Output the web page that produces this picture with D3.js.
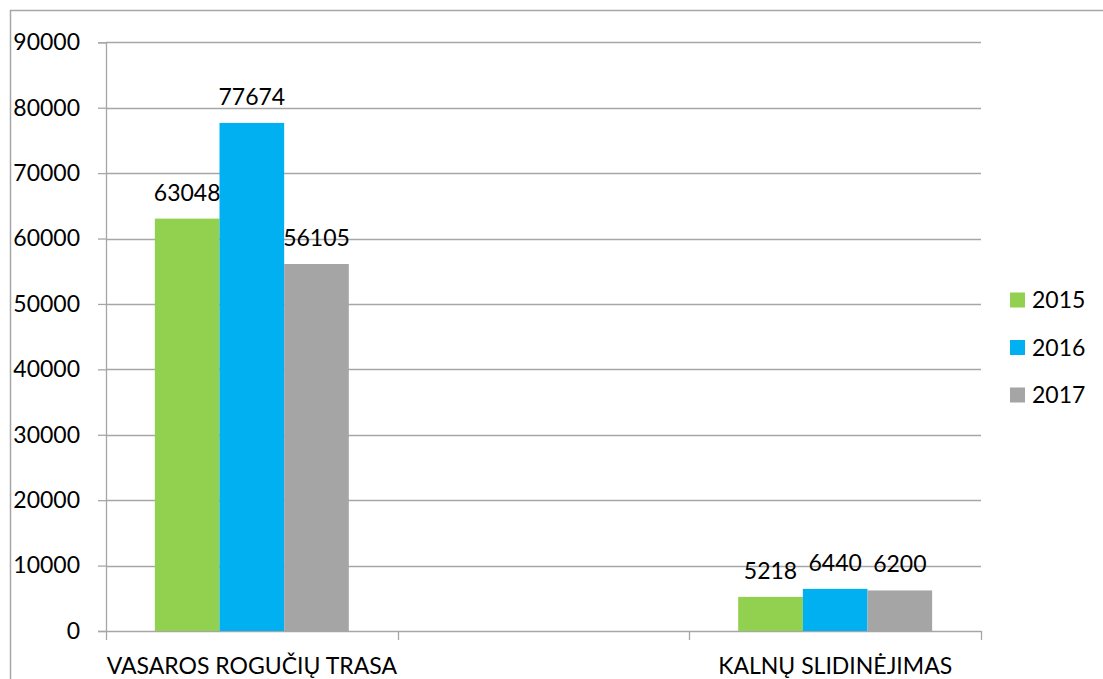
<!DOCTYPE html>
<html><head><meta charset="utf-8">
<script src="https://cdn.jsdelivr.net/npm/d3@7"></script>
<style>body{margin:0;background:#fff;} svg{display:block;} text{font-family:Lato, "Open Sans", sans-serif;fill:#000;}</style>
</head><body>
<svg id="c" width="1103" height="679"></svg>
<script>
const categories = ["VASAROS ROGUČIŲ TRASA", " ", "KALNŲ SLIDINĖJIMAS"];
const seriesNames = ["2015", "2016", "2017"];
const values2015 = [63048, null, 5218];
const values2016 = [77674, null, 6440];
const values2017 = [56105, null, 6200];
const colors = ["#92d050", "#00b0f0", "#a5a5a5"];
const yTicks = [0, 10000, 20000, 30000, 40000, 50000, 60000, 70000, 80000, 90000];

const svg = d3.select("#c");
const m = {left: 106, right: 981, top: 42.3, bottom: 631};
svg.append("rect").attr("x", 10.5).attr("y", 10.5).attr("width", 1300).attr("height", 900)
  .attr("fill", "none").attr("stroke", "#a6a6a6").attr("stroke-width", 1.5);

const x = d3.scaleBand().domain(categories).range([m.left, m.right]).paddingInner(0).paddingOuter(0);
const y = d3.scaleLinear().domain([0, 90000]).range([m.bottom, m.top]);

// gridlines
svg.append("g").selectAll("line").data(yTicks.slice(1)).join("line")
  .attr("x1", m.left).attr("x2", m.right)
  .attr("y1", d => Math.round(y(d)) + 0.5).attr("y2", d => Math.round(y(d)) + 0.5)
  .attr("stroke", "#a6a6a6").attr("stroke-width", 1.3);

// y axis
const yAxis = d3.axisLeft(y).tickValues(yTicks).tickSize(8).tickPadding(18).tickFormat(d3.format("d"));
const gy = svg.append("g").attr("transform", `translate(${m.left},0)`).call(yAxis);
gy.select(".domain").attr("stroke", "#a6a6a6").attr("stroke-width", 1.3);
gy.selectAll(".tick line").attr("stroke", "#a6a6a6").attr("stroke-width", 1.3);
gy.selectAll(".tick text").style("font-size", "23px").style("font-family", "Lato").attr("fill", "#000");

// x axis
const xAxis = d3.axisBottom(x).tickSize(0).tickPadding(27);
const gx = svg.append("g").attr("transform", `translate(0,${m.bottom})`).call(xAxis);
gx.select(".domain").attr("stroke", "#a6a6a6").attr("stroke-width", 1.3);
gx.selectAll(".tick text").style("font-size", "23px").style("font-family", "Lato").attr("fill", "#000");
// boundary tick marks
const bounds = categories.map(c => x(c)).concat([x(categories[categories.length-1]) + x.bandwidth()]);
gx.selectAll("line.bt").data(bounds).join("line").attr("class", "bt")
  .attr("x1", d => Math.round(d) + 0.5).attr("x2", d => Math.round(d) + 0.5)
  .attr("y1", 0).attr("y2", 9).attr("stroke", "#a6a6a6").attr("stroke-width", 1.3);

// bars
const series = [values2015, values2016, values2017];
const groupW = x.bandwidth() * 0.665;
const barW = groupW / 3;
series.forEach((vals, si) => {
  const data = categories.map((c, i) => ({c, v: vals[i]})).filter(d => d.v != null);
  const g = svg.append("g");
  g.selectAll("rect").data(data).join("rect")
    .attr("x", d => x(d.c) + (x.bandwidth() - groupW) / 2 + si * barW)
    .attr("width", barW)
    .attr("y", d => y(d.v)).attr("height", d => y(0) - y(d.v))
    .attr("fill", colors[si]);
  g.selectAll("text").data(data).join("text")
    .attr("x", d => x(d.c) + (x.bandwidth() - groupW) / 2 + si * barW + barW / 2)
    .attr("y", d => y(d.v) - 18)
    .attr("text-anchor", "middle").style("font-size", "23px")
    .text(d => d.v);
});

// legend
const leg = svg.append("g");
seriesNames.forEach((n, i) => {
  const cy = 300 + i * 47.5;
  leg.append("rect").attr("x", 1010).attr("y", cy - 7.5).attr("width", 15).attr("height", 15).attr("fill", colors[i]);
  leg.append("text").attr("x", 1032).attr("y", cy).attr("dy", "0.36em").style("font-size", "23px").text(n);
});
</script>
</body></html>
